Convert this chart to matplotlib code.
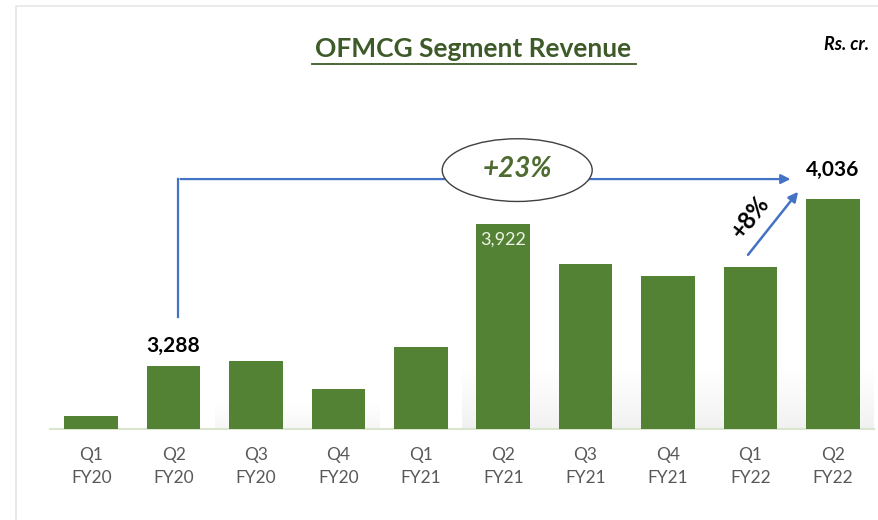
import numpy as np
import matplotlib.pyplot as plt
from matplotlib.patches import Ellipse, Rectangle

quarters = ["Q1", "Q2", "Q3", "Q4", "Q1", "Q2", "Q3", "Q4", "Q1", "Q2"]
years = ["FY20", "FY20", "FY20", "FY20", "FY21", "FY21", "FY21", "FY21", "FY22", "FY22"]
revenue = [3065, 3288, 3311, 3186, 3373, 3922, 3744, 3690, 3730, 4036]

green = "#548235"
blue = "#4472C4"
plt.rcParams["font.family"] = ["Lato", "DejaVu Sans"]

fig = plt.figure(figsize=(8.79, 5.20), dpi=100)
ax = fig.add_axes([50 / 879, 1 - 429 / 520, 824 / 879, 389 / 520])

x = np.arange(len(revenue))
ax.bar(x, revenue, width=0.65, color=green, zorder=3)
ax.set_xlim(-0.5, 9.5)
ax.set_ylim(3007, 4744)
for s in ["top", "right", "left"]:
    ax.spines[s].set_visible(False)
ax.spines["bottom"].set_color("#d9e5cf")
ax.spines["bottom"].set_linewidth(1.5)
ax.set_yticks([])
ax.set_xticks(x)
ax.set_xticklabels([f"{q}\n{y}" for q, y in zip(quarters, years)],
                   fontsize=12.5, color="#595959", linespacing=1.5)
ax.tick_params(axis="x", length=0, pad=13)

# soft shadow behind the bars
grad = np.linspace(0, 1, 50).reshape(-1, 1)
ax.imshow(grad, extent=(4.5, 9.5, 3007, 3280), aspect="auto", cmap="Greys",
          vmin=0, vmax=5, alpha=0.5, zorder=1, origin="upper")
ax.imshow(grad, extent=(1.5, 3.5, 3007, 3120), aspect="auto", cmap="Greys",
          vmin=0, vmax=6, alpha=0.4, zorder=1, origin="upper")

# value labels
ax.text(1, revenue[1] + 45, "3,288", ha="center", va="bottom",
        fontsize=15, fontweight="bold", color="black")
ax.text(5, revenue[5] - 35, "3,922", ha="center", va="top",
        fontsize=13, color="#eef5e6")
ax.text(9, revenue[9] + 85, "4,036", ha="center", va="bottom",
        fontsize=15, fontweight="bold", color="black")

# +23% bracket
top = 4123
ax.plot([1.05, 1.05], [revenue[1] + 220, top], color=blue, lw=1.6, zorder=4)
ax.annotate("", xy=(8.52, top), xytext=(1.05, top),
            arrowprops=dict(arrowstyle="-|>", color=blue, lw=1.6,
                            mutation_scale=14), zorder=4)
ax.add_patch(Ellipse((5.17, 4163), 1.82, 280, facecolor="white",
                     edgecolor="#404040", lw=1.0, zorder=5))
ax.text(5.17, 4168, "+23%", ha="center", va="center", fontsize=20,
        fontweight="bold", fontstyle="italic", color="#4e6b30", zorder=6)

# +8% arrow
ax.annotate("", xy=(8.6, revenue[9] + 40), xytext=(7.95, revenue[8] + 45),
            arrowprops=dict(arrowstyle="-|>", color=blue, lw=1.8,
                            mutation_scale=14), zorder=4)
ax.text(8.0, revenue[8] + 225, "+8%", ha="center", va="center", fontsize=17,
        fontweight="bold", color="black", rotation=52)

# title and unit
fig.text(473 / 879, 1 - 49 / 520, "OFMCG Segment Revenue", ha="center",
         va="center", fontsize=19, fontweight="bold", color="#3e5a28")
fig.add_artist(plt.Line2D([312 / 879, 636 / 879], [1 - 64 / 520, 1 - 64 / 520],
                          color="#3e5a28", lw=1.3))
fig.text(847 / 879, 1 - 45 / 520, "Rs. cr.", ha="center", va="center",
         fontsize=13, fontweight="bold", fontstyle="italic", color="black")

# light frame
fig.add_artist(Rectangle((16 / 879, -0.1), 1, 1 - 6 / 520 + 0.1, fill=False,
                         edgecolor="#e6e6e6", lw=1.2,
                         transform=fig.transFigure))

fig.savefig("out.png", dpi=100)
